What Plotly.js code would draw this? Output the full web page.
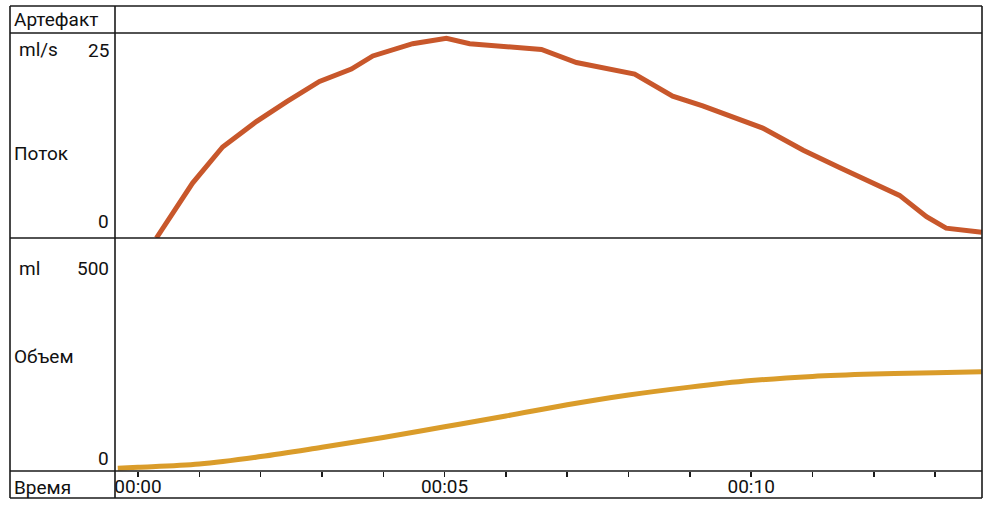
<!DOCTYPE html>
<html>
<head>
<meta charset="utf-8">
<script src="https://cdn.plot.ly/plotly-3.0.1.min.js"></script>
<style>html,body{margin:0;padding:0;background:#fff;}#chart{width:992px;height:505px;}</style>
</head>
<body>
<div id="chart"></div>
<script>
// Flow (ml/s) over time (s)
const flowTime = [0.30, 0.89, 1.38, 1.93, 2.42, 2.96, 3.48, 3.83, 4.48, 5.03, 5.41, 5.90, 6.58, 7.15, 7.58, 8.10, 8.72, 9.21, 10.19, 10.85, 11.44, 11.99, 12.42, 12.86, 13.18, 13.76];
const flowValues = [0.0, 6.7, 11.1, 14.2, 16.6, 19.1, 20.6, 22.2, 23.7, 24.35, 23.7, 23.4, 23.0, 21.4, 20.8, 20.0, 17.3, 16.1, 13.4, 10.7, 8.6, 6.7, 5.2, 2.6, 1.2, 0.7];
// Volume (ml) over time (s)
const volTime = [-0.33, 0, 1, 2, 3, 4, 5, 6, 7, 8, 9, 10, 11, 12, 13, 13.76];
const volValues = [6, 8, 15, 31, 51, 72, 95, 118, 142, 163, 180, 194, 203, 208, 211, 213];
// Axis ticks and labels
const timeTicks = [0, 1, 2, 3, 4, 5, 6, 7, 8, 9, 10, 11, 12, 13];
const timeTickText = ["00:00", "", "", "", "", "00:05", "", "", "", "", "00:10", "", "", ""];
const flowTicks = [0, 25];
const volTicks = [0, 500];
const flowUnit = "ml/s", flowName = "Поток";
const volUnit = "ml", volName = "Объем";
const headerText = "Артефакт", timeName = "Время";

const W = 992, H = 505;
const px = x => x / W;
const py = y => 1 - y / H;
const FONT = {family: "Roboto, Liberation Sans, sans-serif", size: 19, color: "#111"};

const traces = [
  {x: flowTime, y: flowValues, xaxis: "x", yaxis: "y", mode: "lines", line: {color: "#C8572B", width: 5}, hoverinfo: "skip"},
  {x: volTime, y: volValues, xaxis: "x", yaxis: "y2", mode: "lines", line: {color: "#DA9C2A", width: 5, shape: "spline"}, hoverinfo: "skip"}
];

const xr = [-0.375, 13.765];
const lineC = "#1a1a1a";
const shapes = [];
function ln(x0, y0, x1, y1) {
  shapes.push({type: "line", xref: "paper", yref: "paper", x0: px(x0), y0: py(y0), x1: px(x1), y1: py(y1), line: {color: lineC, width: 1.6}});
}
ln(10, 6, 982, 6);
ln(10, 498, 982, 498);
ln(10, 6, 10, 498);
ln(982, 6, 982, 498);
ln(10, 33, 982, 33);
ln(10, 238, 982, 238);
ln(10, 471, 982, 471);
ln(115, 6, 115, 498);

const ann = [];
function txt(text, x, y, xanchor) {
  ann.push({text: text, xref: "paper", yref: "paper", x: px(x), y: py(y), xanchor: xanchor, yanchor: "middle", showarrow: false, font: FONT});
}
txt(headerText, 12, 19, "left");
txt(flowUnit, 17, 50, "left");
txt(flowName, 12, 153, "left");
txt(volUnit, 17, 268, "left");
txt(volName, 12, 356, "left");
txt(timeName, 12, 487, "left");
// Y tick labels placed via axis coordinates
ann.push({text: String(flowTicks[1]), xref: "paper", yref: "y", x: px(111), y: flowTicks[1], yshift: -17, xanchor: "right", yanchor: "middle", showarrow: false, font: FONT});
ann.push({text: String(flowTicks[0]), xref: "paper", yref: "y", x: px(111), y: flowTicks[0], yshift: 17, xanchor: "right", yanchor: "middle", showarrow: false, font: FONT});
ann.push({text: String(volTicks[1]), xref: "paper", yref: "y2", x: px(111), y: volTicks[1], yshift: -30, xanchor: "right", yanchor: "middle", showarrow: false, font: FONT});
ann.push({text: String(volTicks[0]), xref: "paper", yref: "y2", x: px(111), y: volTicks[0], yshift: 13, xanchor: "right", yanchor: "middle", showarrow: false, font: FONT});

const layout = {
  width: W, height: H,
  margin: {l: 0, r: 0, t: 0, b: 0},
  paper_bgcolor: "#fff", plot_bgcolor: "#fff",
  showlegend: false,
  font: FONT,
  xaxis: {
    domain: [px(115), px(982)], range: xr, anchor: "y2",
    tickmode: "array", tickvals: timeTicks, ticktext: timeTickText,
    ticks: "outside", ticklen: 5, tickwidth: 1.5, tickcolor: lineC,
    showgrid: false, zeroline: false, showline: false,
    tickfont: FONT, ticklabelstandoff: -7
  },
  yaxis: {
    domain: [py(238), py(33)], range: [0, 25],
    showticklabels: false, ticks: "", showgrid: false, zeroline: false, showline: false
  },
  yaxis2: {
    domain: [py(471), py(238)], range: [0, 500],
    showticklabels: false, ticks: "", showgrid: false, zeroline: false, showline: false
  },
  shapes: shapes,
  annotations: ann
};

Plotly.newPlot("chart", traces, layout, {displayModeBar: false, staticPlot: true});
</script>
</body>
</html>
